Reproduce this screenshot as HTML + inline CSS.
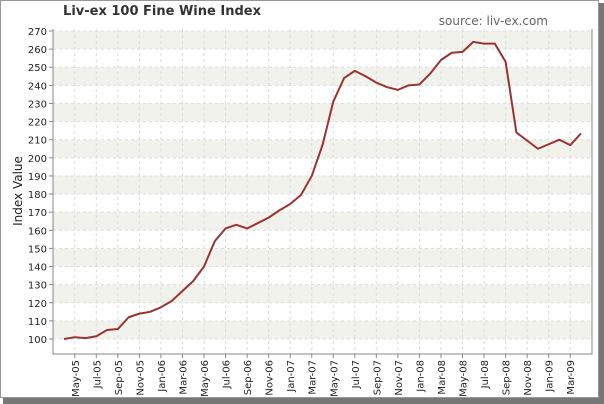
<!DOCTYPE html>
<html><head><meta charset="utf-8"><style>
body{margin:0;background:#fff;}
svg{display:block;font-family:"DejaVu Sans","Liberation Sans",sans-serif;}
</style></head><body>
<svg id="c" width="604" height="404">
<rect x="3" y="3" width="601" height="401" fill="#777"/>
<rect x="0.5" y="0.5" width="598" height="397" fill="#fff" stroke="#999"/>
<text x="162" y="15" font-size="13" fill="#333" text-anchor="middle" font-weight="bold">Liv-ex 100 Fine Wine Index</text>
<text x="548" y="25" font-size="12" fill="#666" text-anchor="end">source: liv-ex.com</text>
<text transform="translate(22,191) rotate(-90)" font-size="12" fill="#222" text-anchor="middle">Index Value</text>
<g id="plot"></g>
</svg>
<script>
const months = ["Apr-05","May-05","Jun-05","Jul-05","Aug-05","Sep-05","Oct-05","Nov-05","Dec-05","Jan-06","Feb-06","Mar-06","Apr-06","May-06","Jun-06","Jul-06","Aug-06","Sep-06","Oct-06","Nov-06","Dec-06","Jan-07","Feb-07","Mar-07","Apr-07","May-07","Jun-07","Jul-07","Aug-07","Sep-07","Oct-07","Nov-07","Dec-07","Jan-08","Feb-08","Mar-08","Apr-08","May-08","Jun-08","Jul-08","Aug-08","Sep-08","Oct-08","Nov-08","Dec-08","Jan-09","Feb-09","Mar-09","Apr-09"];
const values = [100,101,100.5,101.5,105,105.5,112,114,115,117.5,121,126.5,132,140,154,161,163,161,164,167,171,174.5,179.5,190,207,231,244,248,245,241.5,239,237.5,240,240.5,246.5,254,258,258.5,264,263,263,253,214,209.5,205,207.5,210,207,213.5];
const yTicks = [100,110,120,130,140,150,160,170,180,190,200,210,220,230,240,250,260,270];

const NS="http://www.w3.org/2000/svg";
const g=document.getElementById('plot');
const L=53,R=592,T=29,B=354;
const y=v=>339-(v-100)*(308/170);
const x=i=>64+i*(517/(months.length-1));
function mk(t,a,p){const e=document.createElementNS(NS,t);for(const k in a)e.setAttribute(k,a[k]);(p||g).appendChild(e);return e;}
// bands
for(let i=0;i<yTicks.length-1;i++){
  if(i%2===0){const r=mk('rect',{x:L,y:y(yTicks[i+1]),width:R-L,height:y(yTicks[i])-y(yTicks[i+1]),fill:'#f2f2ec'});
  
  }
}
yTicks.forEach(v=>{
  const l=mk('line',{x1:L,x2:R,y1:y(v),y2:y(v),stroke:'#ddd','stroke-dasharray':'3,3'});
  
  
  mk('line',{x1:L-4,x2:L,y1:y(v),y2:y(v),stroke:'#888'});
  const t=mk('text',{x:L-6,y:y(v)+4,'font-size':10,'text-anchor':'end',fill:'#222'});
  t.textContent=v;
  
  
});
months.forEach((m,i)=>{
  if(i%2!==1)return;
  const l=mk('line',{x1:x(i),x2:x(i),y1:T,y2:B,stroke:'#ddd','stroke-dasharray':'3,3'});
  
  
  mk('line',{x1:x(i),x2:x(i),y1:B,y2:B+4,stroke:'#888'});
  const t=mk('text',{transform:`translate(${x(i)+4},${B+6}) rotate(-90)`,'font-size':10,'text-anchor':'end',fill:'#222'});
  t.textContent=m;
  
  
});
const ax=mk('path',{d:`M${L},${T}V${B}H${R}V${T}`,fill:'none',stroke:'#888'});


const line=mk('polyline',{points:values.map((v,i)=>x(i)+','+y(v)).join(' '),fill:'none',stroke:'#993333','stroke-width':2,'stroke-linejoin':'round'});


</script>
</body></html>
